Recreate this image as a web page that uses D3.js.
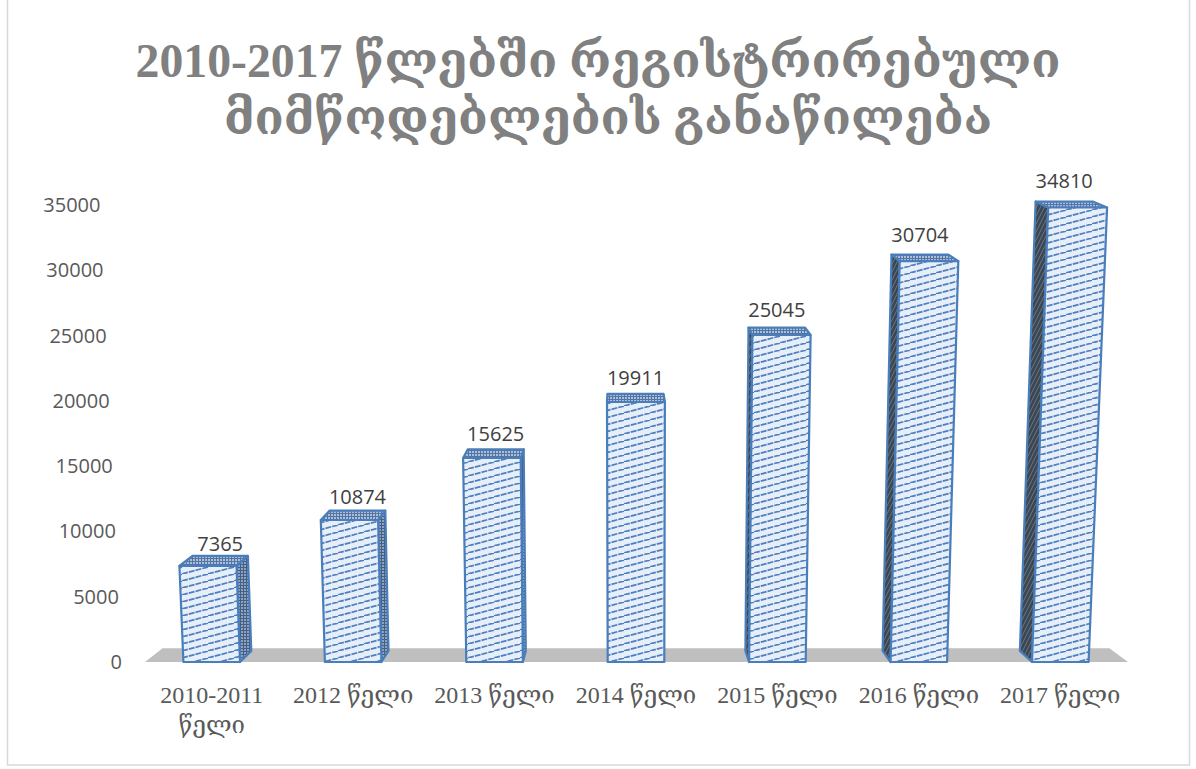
<!DOCTYPE html>
<html>
<head>
<meta charset="utf-8">
<script src="https://cdn.jsdelivr.net/npm/d3@7"></script>
<style>
  html, body { margin: 0; padding: 0; background: #fff; }
  svg { display: block; }
</style>
</head>
<body>
<div id="chart"></div>
<script>
const titleLines = ["2010-2017 წლებში რეგისტრირებული", "მიმწოდებლების განაწილება"];
const categories = ["2010-2011 წელი", "2012 წელი", "2013 წელი", "2014 წელი", "2015 წელი", "2016 წელი", "2017 წელი"];
const values = [7365, 10874, 15625, 19911, 25045, 30704, 34810];
const yTicks = [0, 5000, 10000, 15000, 20000, 25000, 30000, 35000];

const width = 1196, height = 769;

const svg = d3.select("#chart").append("svg")
  .attr("width", width)
  .attr("height", height);

const x = d3.scaleBand().domain(categories).range([141, 1131]).paddingInner(0.6).paddingOuter(0.3);
const y = d3.scaleLinear().domain([0, 35000]).range([662, 205]);

// rough 3D look: verticals lean out from the middle, depth goes towards a vanishing point
const floorY = y(0);
const VPX = 622, VPY = -300, TX = 0.0295, TY = 0.0115;
function proj(u, yy, w) {
  let px = u + (u - 640) * (floorY - yy) / 11000;
  let py = yy;
  px += (VPX - px) * w * TX;
  py += (VPY - py) * w * TY;
  return [px, py];
}
const poly = (pts) => "M" + pts.map(p => p[0].toFixed(1) + "," + p[1].toFixed(1)).join("L") + "Z";

// chart border
svg.append("rect")
  .attr("x", 7.5).attr("y", -1)
  .attr("width", 1182).attr("height", 766)
  .attr("fill", "none")
  .attr("stroke", "#d9d9d9")
  .attr("stroke-width", 1.5);

const defs = svg.append("defs");

// front face: light blue with upward diagonal lines
const pFront = defs.append("pattern").attr("id", "front")
  .attr("patternUnits", "userSpaceOnUse").attr("width", 26).attr("height", 7);
pFront.append("rect").attr("width", 26).attr("height", 7).attr("fill", "#e6eef9");
pFront.append("path").attr("d", "M0,7L26,0M-26,7L0,0M26,7L52,0")
  .attr("stroke", "#4f7fbd").attr("stroke-width", 1.7).attr("stroke-dasharray", "6,1");

// top face / right side: small grid
const pTop = defs.append("pattern").attr("id", "top")
  .attr("patternUnits", "userSpaceOnUse").attr("width", 3).attr("height", 3);
pTop.append("rect").attr("width", 3).attr("height", 3).attr("fill", "#a9bfdc");
pTop.append("path").attr("d", "M0,0.5H3M0.5,0V3").attr("stroke", "#55749f").attr("stroke-width", 1);

const pSide = defs.append("pattern").attr("id", "side")
  .attr("patternUnits", "userSpaceOnUse").attr("width", 3).attr("height", 3);
pSide.append("rect").attr("width", 3).attr("height", 3).attr("fill", "#8aa2c3");
pSide.append("path").attr("d", "M0,0.5H3M0.5,0V3").attr("stroke", "#475f80").attr("stroke-width", 1);

// left side of the right-hand bars: dark with steep stripes
const pDark = defs.append("pattern").attr("id", "dark")
  .attr("patternUnits", "userSpaceOnUse").attr("width", 4).attr("height", 8);
pDark.append("rect").attr("width", 4).attr("height", 8).attr("fill", "#3b4653");
pDark.append("path").attr("d", "M0,8L4,0M-4,8L0,0M4,8L8,0")
  .attr("stroke", "#6e7b8b").attr("stroke-width", 0.9);

// floor
const fl = 145, fr = 1128, fw = 1.25;
svg.append("path")
  .attr("d", poly([proj(fl, floorY, 0), proj(fr, floorY, 0), proj(fr, floorY, fw), proj(fl, floorY, fw)]))
  .attr("fill", "#bfbfbf");

// y axis labels, following the lean of the left wall
svg.append("g").selectAll("text")
  .data(yTicks)
  .enter()
  .append("text")
  .attr("x", (d) => proj(122, y(d), 0)[0])
  .attr("y", (d) => y(d) + 7)
  .attr("text-anchor", "end")
  .style("font-family", "'Open Sans', sans-serif")
  .style("font-size", "20px")
  .style("fill", "#595959")
  .text((d) => d);

const bars = categories.map((c, i) => ({ cat: c, value: values[i] }));

const bar = svg.append("g").selectAll("g")
  .data(bars)
  .enter()
  .append("g");

bar.each(function (d) {
  const g = d3.select(this);
  const x0 = x(d.cat), x1 = x0 + x.bandwidth(), yt = y(d.value);
  const fbl = proj(x0, floorY, 0), ftl = proj(x0, yt, 0), ftr = proj(x1, yt, 0), fbr = proj(x1, floorY, 0);
  const bbl = proj(x0, floorY, 1), btl = proj(x0, yt, 1), btr = proj(x1, yt, 1), bbr = proj(x1, floorY, 1);
  const face = (pts, fill) => g.append("path")
    .attr("d", poly(pts))
    .attr("fill", fill)
    .attr("stroke", "#4a7ebb")
    .attr("stroke-width", 2.2)
    .attr("stroke-linejoin", "round");

  if (btl[0] < ftl[0]) face([fbl, ftl, btl, bbl], "url(#dark)");
  if (btr[0] > ftr[0]) face([fbr, ftr, btr, bbr], "url(#side)");
  face([ftl, ftr, btr, btl], "url(#top)");
  face([fbl, ftl, ftr, fbr], "url(#front)");

  const h = floorY - yt;
  g.append("text")
    .attr("x", (btl[0] + btr[0]) / 2)
    .attr("y", Math.min(btl[1], btr[1]) - (3 + 0.024 * h))
    .attr("text-anchor", "middle")
    .style("font-family", "'Open Sans', sans-serif")
    .style("font-size", "20px")
    .style("fill", "#404040")
    .text(d.value);
});

// category labels, wrapped when wider than a band step
const catG = svg.append("g");
categories.forEach((c) => {
  const t = catG.append("text")
    .attr("x", x(c) + x.bandwidth() / 2)
    .attr("y", 703)
    .attr("text-anchor", "middle")
    .style("font-family", "'Liberation Serif', 'DejaVu Serif', serif")
    .style("font-size", "24px")
    .style("fill", "#595959")
    .text(c);
  if (t.node().getComputedTextLength() > x.step()) {
    const cut = c.lastIndexOf(" ");
    t.text(null);
    t.append("tspan").attr("x", x(c) + x.bandwidth() / 2).text(c.slice(0, cut));
    t.append("tspan").attr("x", x(c) + x.bandwidth() / 2).attr("dy", 30).text(c.slice(cut + 1));
  }
});

// title
const title = svg.append("g")
  .style("font-family", "'Liberation Serif', 'DejaVu Serif', serif")
  .style("font-weight", "bold")
  .style("fill", "#808080");
const t1 = title.append("text").attr("x", 598).attr("y", 77).attr("text-anchor", "middle")
  .style("font-size", "44px").text(titleLines[0]);
const fs = 44 * 925 / t1.node().getComputedTextLength();
t1.style("font-size", fs + "px");
title.append("text").attr("x", 608).attr("y", 134).attr("text-anchor", "middle")
  .style("font-size", fs + "px").text(titleLines[1]);
</script>
</body>
</html>
